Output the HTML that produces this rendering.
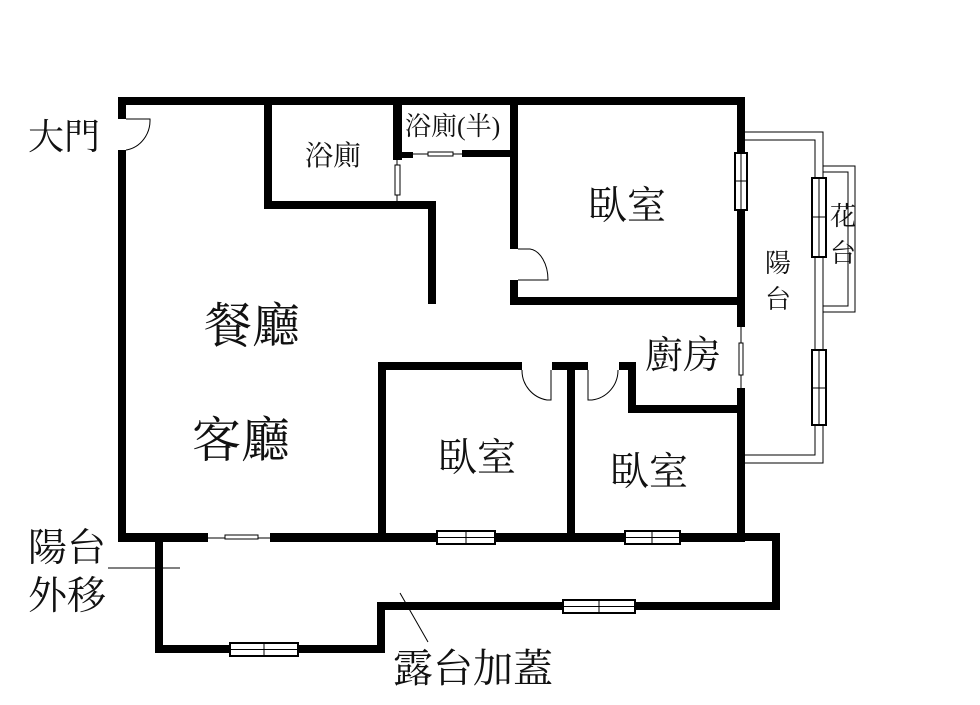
<!DOCTYPE html>
<html><head><meta charset="utf-8"><style>
html,body{margin:0;padding:0;background:#fff;}
svg{display:block;}
text{font-family:"Liberation Serif","Noto Serif CJK SC","Noto Sans CJK TC",serif;fill:#111;}
</style></head><body>
<svg width="980" height="705" viewBox="0 0 980 705" xmlns="http://www.w3.org/2000/svg">
<g fill="#000">
<rect x="118" y="97" width="627" height="8"/>
<rect x="118" y="97" width="8" height="22"/>
<rect x="118" y="150" width="8" height="392"/>
<rect x="118" y="533" width="90" height="9"/>
<rect x="270" y="533" width="475" height="9"/>
<rect x="264" y="97" width="8" height="112"/>
<rect x="264" y="201" width="172" height="8"/>
<rect x="428" y="201" width="8" height="103"/>
<rect x="393" y="97" width="9" height="63"/>
<rect x="393" y="152" width="20" height="6"/>
<rect x="462" y="150" width="52" height="7"/>
<rect x="510" y="97" width="8" height="152"/>
<rect x="510" y="280" width="8" height="25"/>
<rect x="510" y="297" width="235" height="8"/>
<rect x="737" y="97" width="8" height="56"/>
<rect x="737" y="210" width="8" height="117"/>
<rect x="737" y="388" width="8" height="154"/>
<rect x="378" y="362" width="8" height="180"/>
<rect x="378" y="362" width="144" height="8"/>
<rect x="552" y="362" width="36" height="8"/>
<rect x="567" y="362" width="8" height="180"/>
<rect x="619" y="362" width="16" height="8"/>
<rect x="628" y="362" width="8" height="51"/>
<rect x="628" y="405" width="117" height="8"/>
<rect x="155" y="533" width="8" height="120"/>
<rect x="155" y="645" width="230" height="8"/>
<rect x="377" y="602" width="8" height="51"/>
<rect x="377" y="602" width="403" height="8"/>
<rect x="772" y="533" width="8" height="77"/>
<rect x="737" y="533" width="43" height="8"/>
</g>
<g fill="none" stroke="#000" stroke-width="1">
<path d="M126 119 L150 119 A28 30 0 0 1 126 150"/>
<line x1="397" y1="158" x2="397" y2="201"/>
<rect x="395" y="165" width="5" height="30" fill="#fff"/>
<line x1="413" y1="154" x2="462" y2="154"/>
<rect x="428" y="152" width="25" height="4" fill="#fff"/>
<path d="M518 249 L530 249 A20 31 0 0 1 548 280 L518 280"/>
<path d="M522 370 A30 30 0 0 0 547 400 L551 400 L551 370"/>
<path d="M588 370 L588 400 L592 400 A30 30 0 0 0 618 370"/>
<line x1="741" y1="327" x2="741" y2="388"/>
<rect x="739" y="343" width="4" height="32" fill="#fff"/>
<line x1="208" y1="538" x2="270" y2="538"/>
<rect x="225" y="535" width="33" height="4" fill="#fff"/>
<path d="M745 132 L823 132 L823 463 L745 463"/>
<path d="M745 140 L815 140 L815 455 L745 455"/>
<path d="M823 166 L855 166 L855 312 L823 312"/>
<path d="M823 172 L848 172 L848 306 L823 306"/>
<line x1="108" y1="568" x2="180" y2="568"/>
<line x1="400" y1="593" x2="428" y2="642"/>
</g>
<g stroke="#000" fill="#fff">
<rect x="735" y="153" width="12" height="57" stroke-width="2"/>
<line x1="741" y1="153" x2="741" y2="210"/><line x1="735" y1="181" x2="747" y2="181"/>
<rect x="812" y="178" width="14" height="79" stroke-width="2"/>
<line x1="819" y1="178" x2="819" y2="257"/><line x1="812" y1="217" x2="826" y2="217"/>
<rect x="812" y="350" width="14" height="75" stroke-width="2"/>
<line x1="819" y1="350" x2="819" y2="425"/><line x1="812" y1="388" x2="826" y2="388"/>
<rect x="437" y="531" width="58" height="13" stroke-width="2"/>
<line x1="437" y1="537.5" x2="495" y2="537.5"/><line x1="466" y1="531" x2="466" y2="544"/>
<rect x="625" y="531" width="55" height="13" stroke-width="2"/>
<line x1="625" y1="537.5" x2="680" y2="537.5"/><line x1="652" y1="531" x2="652" y2="544"/>
<rect x="230" y="643" width="68" height="13" stroke-width="2"/>
<line x1="230" y1="649.5" x2="298" y2="649.5"/><line x1="264" y1="643" x2="264" y2="656"/>
<rect x="563" y="600" width="72" height="13" stroke-width="2"/>
<line x1="563" y1="606.5" x2="635" y2="606.5"/><line x1="599" y1="600" x2="599" y2="613"/>
</g>
<text x="28" y="149" font-size="36">大門</text>
<text x="204" y="342" font-size="48">餐廳</text>
<text x="192" y="457" font-size="49">客廳</text>
<text x="305" y="165" font-size="28">浴廁</text>
<text x="405" y="135" font-size="26">浴廁(半)</text>
<text x="588" y="219" font-size="39">臥室</text>
<text x="438" y="471" font-size="39">臥室</text>
<text x="610" y="485" font-size="39">臥室</text>
<text x="645" y="368" font-size="38">廚房</text>
<text x="765" y="272" font-size="26">陽</text>
<text x="765" y="308" font-size="26">台</text>
<text x="830" y="225" font-size="26">花</text>
<text x="830" y="262" font-size="26">台</text>
<text x="28" y="561" font-size="39">陽台</text>
<text x="28" y="609" font-size="39">外移</text>
<text x="393" y="682" font-size="40">露台加蓋</text>
</svg>
</body></html>
